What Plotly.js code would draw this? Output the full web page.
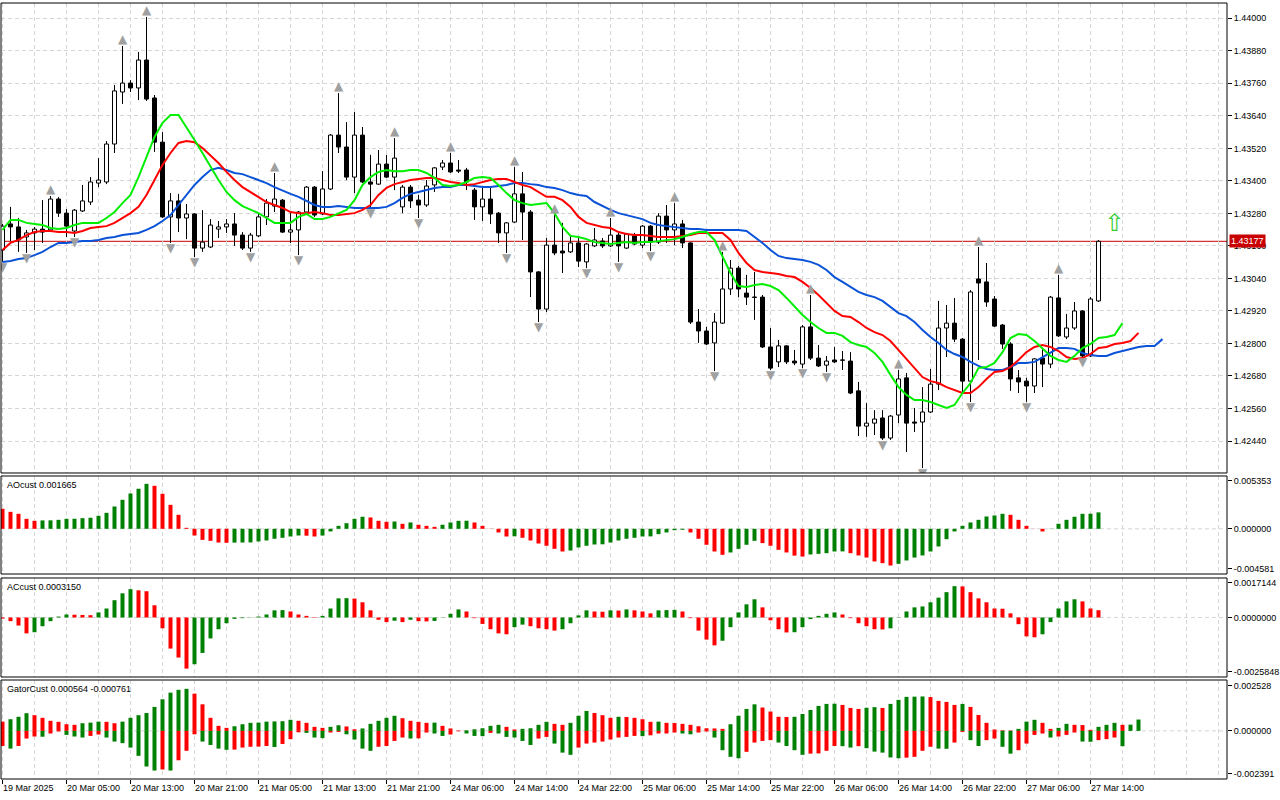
<!DOCTYPE html>
<html>
<head>
<meta charset="utf-8">
<script src="https://cdn.plot.ly/plotly-3.0.1.min.js"></script>
<style>
html,body{margin:0;padding:0;background:#fff}
#chart{width:1280px;height:800px}
</style>
</head>
<body>
<div id="chart"></div>
<script>
// H1 bars, one label every 8 bars
const labelBars=[0,8,16,24,32,40,48,56,64,72,80,88,96,104,112,120,128,136];
const labelText=["19 Mar 2025","20 Mar 05:00","20 Mar 13:00","20 Mar 21:00","21 Mar 05:00","21 Mar 13:00",
  "21 Mar 21:00","24 Mar 06:00","24 Mar 14:00","24 Mar 22:00","25 Mar 06:00","25 Mar 14:00",
  "25 Mar 22:00","26 Mar 06:00","26 Mar 14:00","26 Mar 22:00","27 Mar 06:00","27 Mar 14:00"];

const open=[1.43145,1.43241,1.43230,1.43193,1.43208,1.43222,1.43219,1.43333,1.43281,1.43215,
1.43289,1.43322,1.43392,1.43396,1.43536,1.43728,1.43761,1.43743,1.43846,1.43706,
1.43543,1.43267,1.43326,1.43263,1.43278,1.43152,1.43156,1.43222,1.43230,1.43241,
1.43200,1.43152,1.43197,1.43267,1.43307,1.43329,1.43211,1.43219,1.43285,1.43377,
1.43278,1.43370,1.43569,1.43525,1.43414,1.43569,1.43396,1.43388,1.43462,1.43414,
1.43304,1.43377,1.43329,1.43311,1.43385,1.43451,1.43466,1.43440,1.43440,1.43366,
1.43304,1.43333,1.43281,1.43208,1.43248,1.43352,1.43285,1.43064,1.42927,1.43163,
1.43141,1.43138,1.43171,1.43101,1.43160,1.43178,1.43160,1.43200,1.43152,1.43197,
1.43163,1.43233,1.43174,1.43270,1.43219,1.43241,1.43171,1.42879,1.42846,1.42802,
1.42875,1.43001,1.43078,1.42986,1.42971,1.42971,1.42787,1.42732,1.42791,1.42735,
1.42724,1.42861,1.42746,1.42720,1.42739,1.42739,1.42735,1.42625,1.42495,1.42506,
1.42525,1.42451,1.42536,1.42673,1.42510,1.42510,1.42547,1.42650,1.42857,1.42875,
1.42816,1.42661,1.43038,1.43027,1.42964,1.42868,1.42798,1.42673,1.42661,1.42643,
1.42746,1.42724,1.42968,1.42824,1.42857,1.42920,1.42754,1.42957];
const high=[1.43241,1.43304,1.43263,1.43219,1.43230,1.43329,1.43344,1.43340,1.43296,1.43296,
1.43385,1.43414,1.43484,1.43547,1.43754,1.43898,1.43772,1.43876,1.44005,1.43717,
1.43580,1.43355,1.43352,1.43315,1.43281,1.43292,1.43259,1.43252,1.43259,1.43281,
1.43211,1.43208,1.43281,1.43333,1.43429,1.43333,1.43281,1.43289,1.43381,1.43381,
1.43436,1.43573,1.43724,1.43617,1.43654,1.43599,1.43496,1.43514,1.43496,1.43558,
1.43385,1.43385,1.43348,1.43403,1.43451,1.43477,1.43503,1.43477,1.43448,1.43374,
1.43374,1.43374,1.43285,1.43248,1.43451,1.43433,1.43292,1.43067,1.43189,1.43274,
1.43245,1.43200,1.43189,1.43171,1.43226,1.43189,1.43263,1.43208,1.43208,1.43208,
1.43237,1.43237,1.43281,1.43311,1.43318,1.43256,1.43174,1.42927,1.42861,1.42912,
1.43138,1.43108,1.43086,1.43053,1.43064,1.42979,1.42857,1.42813,1.42794,1.42776,
1.42868,1.42979,1.42794,1.42754,1.42787,1.42772,1.42768,1.42658,1.42580,1.42554,
1.42554,1.42536,1.42702,1.42691,1.42562,1.42639,1.42706,1.42957,1.42942,1.42968,
1.42820,1.42997,1.43156,1.43097,1.42975,1.42872,1.42805,1.42702,1.42673,1.42746,
1.42783,1.42975,1.43053,1.42909,1.42953,1.42923,1.42971,1.43182];
const low=[1.43101,1.43178,1.43138,1.43134,1.43145,1.43171,1.43215,1.43267,1.43193,1.43193,
1.43285,1.43311,1.43377,1.43388,1.43503,1.43684,1.43728,1.43698,1.43695,1.43507,
1.43263,1.43171,1.43211,1.43185,1.43119,1.43138,1.43152,1.43189,1.43208,1.43160,
1.43145,1.43138,1.43193,1.43237,1.43285,1.43208,1.43171,1.43126,1.43278,1.43267,
1.43274,1.43366,1.43503,1.43403,1.43355,1.43392,1.43300,1.43385,1.43411,1.43366,
1.43281,1.43300,1.43263,1.43304,1.43359,1.43440,1.43429,1.43429,1.43366,1.43256,
1.43252,1.43241,1.43171,1.43134,1.43245,1.43182,1.42971,1.42879,1.42916,1.43126,
1.43060,1.43134,1.43082,1.43078,1.43156,1.43152,1.43156,1.43101,1.43149,1.43163,
1.43152,1.43141,1.43167,1.43171,1.43163,1.43152,1.42872,1.42802,1.42794,1.42698,
1.42872,1.42979,1.42971,1.42942,1.42887,1.42783,1.42702,1.42713,1.42724,1.42720,
1.42709,1.42739,1.42713,1.42695,1.42728,1.42702,1.42613,1.42458,1.42455,1.42462,
1.42444,1.42444,1.42506,1.42399,1.42473,1.42340,1.42543,1.42628,1.42750,1.42805,
1.42621,1.42584,1.42739,1.42935,1.42861,1.42780,1.42625,1.42617,1.42584,1.42617,
1.42639,1.42709,1.42824,1.42816,1.42850,1.42750,1.42750,1.42953];
const close=[1.43233,1.43230,1.43182,1.43208,1.43222,1.43211,1.43333,1.43281,1.43233,1.43292,
1.43326,1.43396,1.43403,1.43536,1.43732,1.43761,1.43743,1.43846,1.43702,1.43543,
1.43267,1.43326,1.43263,1.43278,1.43152,1.43174,1.43237,1.43230,1.43241,1.43200,
1.43152,1.43200,1.43267,1.43318,1.43333,1.43211,1.43219,1.43285,1.43377,1.43274,
1.43370,1.43569,1.43525,1.43414,1.43569,1.43396,1.43388,1.43462,1.43414,1.43484,
1.43377,1.43326,1.43311,1.43381,1.43448,1.43466,1.43433,1.43436,1.43396,1.43304,
1.43333,1.43278,1.43208,1.43245,1.43352,1.43285,1.43064,1.42927,1.43163,1.43134,
1.43134,1.43171,1.43104,1.43167,1.43182,1.43160,1.43200,1.43160,1.43204,1.43167,
1.43233,1.43174,1.43270,1.43219,1.43241,1.43171,1.42879,1.42846,1.42798,1.42879,
1.43001,1.43078,1.43001,1.42971,1.42970,1.42787,1.42709,1.42791,1.42732,1.42728,
1.42861,1.42746,1.42717,1.42735,1.42732,1.42738,1.42617,1.42495,1.42506,1.42521,
1.42451,1.42532,1.42669,1.42506,1.42506,1.42547,1.42650,1.42857,1.42875,1.42816,
1.42661,1.42990,1.43023,1.42953,1.42864,1.42798,1.42669,1.42658,1.42643,1.42743,
1.42724,1.42971,1.42828,1.42857,1.42920,1.42754,1.42964,1.43177];

// Alligator lines as drawn (already shifted forward: lips 3, teeth 5, jaw 8 bars)
const lips=[1.43219,1.43256,1.43256,1.43245,1.43241,1.43237,1.43226,1.43222,1.43226,1.43237,
1.43245,1.43245,1.43245,1.43263,1.43285,1.43318,1.43348,1.43414,1.43488,1.43562,
1.43614,1.43643,1.43643,1.43599,1.43551,1.43503,1.43451,1.43403,1.43359,1.43329,
1.43307,1.43293,1.43281,1.43263,1.43245,1.43245,1.43245,1.43267,1.43278,1.43259,
1.43259,1.43267,1.43281,1.43293,1.43329,1.43385,1.43414,1.43433,1.43440,1.43436,
1.43436,1.43440,1.43440,1.43429,1.43411,1.43385,1.43381,1.43385,1.43396,1.43411,
1.43414,1.43411,1.43385,1.43355,1.43329,1.43318,1.43311,1.43315,1.43318,1.43281,
1.43230,1.43197,1.43193,1.43185,1.43174,1.43171,1.43167,1.43171,1.43174,1.43171,
1.43174,1.43174,1.43178,1.43182,1.43185,1.43193,1.43204,1.43211,1.43211,1.43182,
1.43119,1.43060,1.43012,1.43008,1.43016,1.43019,1.43012,1.42997,1.42968,1.42935,
1.42905,1.42879,1.42857,1.42839,1.42839,1.42828,1.42805,1.42794,1.42787,1.42765,
1.42732,1.42684,1.42639,1.42610,1.42591,1.42591,1.42584,1.42573,1.42562,1.42573,
1.42617,1.42654,1.42709,1.42713,1.42728,1.42768,1.42820,1.42835,1.42831,1.42809,
1.42783,1.42754,1.42739,1.42732,1.42754,1.42783,1.42798,1.42820,1.42824,1.42831,
1.42875];
const teeth=[1.43145,1.43171,1.43182,1.43200,1.43211,1.43215,1.43215,1.43211,1.43211,1.43208,
1.43215,1.43226,1.43230,1.43233,1.43245,1.43263,1.43281,1.43304,1.43348,1.43403,
1.43459,1.43503,1.43540,1.43547,1.43543,1.43521,1.43492,1.43466,1.43433,1.43403,
1.43377,1.43359,1.43341,1.43322,1.43311,1.43300,1.43285,1.43281,1.43281,1.43285,
1.43281,1.43274,1.43274,1.43278,1.43281,1.43293,1.43311,1.43348,1.43374,1.43388,
1.43396,1.43403,1.43407,1.43411,1.43411,1.43403,1.43396,1.43392,1.43385,1.43388,
1.43396,1.43403,1.43407,1.43407,1.43396,1.43385,1.43377,1.43359,1.43341,1.43341,
1.43329,1.43304,1.43267,1.43245,1.43237,1.43230,1.43226,1.43211,1.43204,1.43200,
1.43200,1.43197,1.43193,1.43193,1.43193,1.43197,1.43200,1.43208,1.43208,1.43208,
1.43208,1.43182,1.43134,1.43097,1.43071,1.43064,1.43060,1.43056,1.43049,1.43045,
1.43027,1.43005,1.42979,1.42949,1.42920,1.42901,1.42898,1.42879,1.42857,1.42842,
1.42831,1.42809,1.42776,1.42739,1.42709,1.42676,1.42661,1.42654,1.42639,1.42628,
1.42617,1.42617,1.42639,1.42669,1.42695,1.42698,1.42713,1.42739,1.42768,1.42787,
1.42794,1.42787,1.42772,1.42750,1.42743,1.42746,1.42761,1.42783,1.42787,1.42798,
1.42802,1.42809,1.42839];
const jaw=[1.43101,1.43104,1.43112,1.43115,1.43126,1.43138,1.43156,1.43171,1.43171,1.43174,
1.43178,1.43178,1.43182,1.43189,1.43193,1.43200,1.43204,1.43208,1.43219,1.43233,
1.43252,1.43274,1.43311,1.43348,1.43385,1.43414,1.43440,1.43448,1.43440,1.43429,
1.43425,1.43414,1.43403,1.43392,1.43377,1.43363,1.43352,1.43341,1.43326,1.43311,
1.43304,1.43304,1.43307,1.43304,1.43300,1.43300,1.43300,1.43300,1.43304,1.43318,
1.43337,1.43352,1.43359,1.43366,1.43374,1.43377,1.43377,1.43385,1.43385,1.43381,
1.43377,1.43377,1.43381,1.43385,1.43392,1.43392,1.43388,1.43385,1.43377,1.43374,
1.43366,1.43355,1.43348,1.43344,1.43322,1.43307,1.43293,1.43281,1.43274,1.43267,
1.43259,1.43245,1.43237,1.43233,1.43230,1.43226,1.43222,1.43222,1.43219,1.43219,
1.43219,1.43219,1.43219,1.43215,1.43193,1.43171,1.43145,1.43123,1.43115,1.43112,
1.43108,1.43101,1.43090,1.43071,1.43045,1.43027,1.43008,1.42990,1.42979,1.42971,
1.42957,1.42935,1.42912,1.42901,1.42879,1.42850,1.42824,1.42802,1.42776,1.42761,
1.42750,1.42732,1.42717,1.42706,1.42702,1.42702,1.42713,1.42728,1.42728,1.42732,
1.42750,1.42768,1.42783,1.42783,1.42780,1.42765,1.42757,1.42754,1.42754,1.42765,
1.42772,1.42780,1.42787,1.42791,1.42791,1.42816];

const ao=[0.00203,0.00172,0.00152,0.00101,0.00081,0.00085,0.00086,0.00091,0.00101,0.00102,
0.00108,0.00112,0.00132,0.00162,0.00226,0.00294,0.00358,0.00406,0.00456,0.00436,
0.00355,0.00243,0.00142,0.00010,-0.00068,-0.00112,-0.00122,-0.00139,-0.00142,-0.00140,
-0.00139,-0.00138,-0.00128,-0.00118,-0.00101,-0.00091,-0.00078,-0.00068,-0.00070,-0.00078,
-0.00068,-0.00027,0.00030,0.00057,0.00101,0.00122,0.00115,0.00081,0.00071,0.00074,
0.00051,0.00064,0.00041,0.00030,0.00020,0.00041,0.00064,0.00081,0.00082,0.00064,
0.00030,0.00002,-0.00037,-0.00078,-0.00076,-0.00091,-0.00118,-0.00149,-0.00172,-0.00203,
-0.00230,-0.00220,-0.00189,-0.00172,-0.00159,-0.00157,-0.00139,-0.00118,-0.00101,-0.00091,
-0.00078,-0.00077,-0.00054,-0.00037,-0.00014,-0.00010,-0.00037,-0.00101,-0.00162,-0.00230,
-0.00264,-0.00240,-0.00203,-0.00162,-0.00122,-0.00145,-0.00172,-0.00213,-0.00240,-0.00272,
-0.00281,-0.00260,-0.00254,-0.00247,-0.00230,-0.00229,-0.00247,-0.00270,-0.00291,-0.00331,
-0.00348,-0.00372,-0.00355,-0.00321,-0.00291,-0.00270,-0.00230,-0.00179,-0.00105,-0.00027,
0.00030,0.00064,0.00091,0.00125,0.00135,0.00152,0.00142,0.00091,0.00030,0.00001,
-0.00027,-0.00002,0.00051,0.00091,0.00122,0.00152,0.00153,0.001665];
const ac=[-0.00005,-0.00016,-0.00035,-0.00069,-0.00064,-0.00038,-0.00016,0.00004,0.00013,0.00012,
0.00011,0.00010,0.00022,0.00039,0.00075,0.00105,0.00123,0.00118,0.00114,0.00053,
-0.00047,-0.00135,-0.00174,-0.00222,-0.00203,-0.00154,-0.00091,-0.00051,-0.00025,-0.00006,
-0.00003,0.00001,0.00004,0.00013,0.00031,0.00032,0.00026,0.00013,0.00007,0.00002,
0.00007,0.00039,0.00083,0.00084,0.00082,0.00066,0.00031,-0.00010,-0.00020,-0.00014,
-0.00020,-0.00010,-0.00016,-0.00017,-0.00015,0.00001,0.00016,0.00035,0.00026,-0.00003,
-0.00028,-0.00051,-0.00069,-0.00073,-0.00042,-0.00031,-0.00038,-0.00047,-0.00051,-0.00057,
-0.00051,-0.00025,0.00009,0.00031,0.00026,0.00025,0.00031,0.00030,0.00035,0.00031,
0.00026,0.00018,0.00031,0.00032,0.00033,0.00026,-0.00003,-0.00057,-0.00096,-0.00121,
-0.00101,-0.00042,0.00022,0.00057,0.00079,0.00044,-0.00012,-0.00051,-0.00065,-0.00064,
-0.00042,-0.00007,0.00007,0.00016,0.00022,0.00013,-0.00003,-0.00025,-0.00038,-0.00051,
-0.00052,-0.00047,0.00001,0.00026,0.00044,0.00048,0.00066,0.00086,0.00110,0.00136,
0.00135,0.00110,0.00083,0.00066,0.00039,0.00038,0.00018,-0.00029,-0.00082,-0.00086,
-0.00073,-0.00020,0.00039,0.00070,0.00079,0.00070,0.00039,0.000315];
const gatorUp=[0.00046,0.00058,0.00070,0.00088,0.00078,0.00065,0.00050,0.00045,0.00033,0.00030,
0.00038,0.00041,0.00046,0.00045,0.00038,0.00046,0.00065,0.00078,0.00089,0.00119,
0.00157,0.00190,0.00204,0.00209,0.00185,0.00132,0.00065,0.00025,0.00015,0.00023,
0.00033,0.00040,0.00041,0.00046,0.00047,0.00048,0.00055,0.00050,0.00040,0.00020,
0.00015,0.00020,0.00028,0.00022,0.00008,0.00012,0.00035,0.00050,0.00065,0.00075,
0.00063,0.00050,0.00045,0.00040,0.00041,0.00025,0.00012,0.00002,0.00003,0.00008,
0.00013,0.00025,0.00030,0.00020,0.00007,0.00010,0.00013,0.00030,0.00045,0.00035,
0.00030,0.00040,0.00075,0.00099,0.00089,0.00078,0.00065,0.00070,0.00069,0.00065,
0.00058,0.00045,0.00046,0.00040,0.00039,0.00035,0.00030,0.00023,0.00013,0.00012,
0.00010,0.00033,0.00075,0.00109,0.00132,0.00116,0.00096,0.00070,0.00069,0.00070,
0.00084,0.00104,0.00124,0.00134,0.00135,0.00129,0.00114,0.00109,0.00115,0.00118,
0.00114,0.00134,0.00154,0.00169,0.00170,0.00171,0.00168,0.00149,0.00144,0.00129,
0.00134,0.00119,0.00079,0.00040,0.00007,0.00003,0.00002,0.00010,0.00046,0.00055,
0.00040,0.00010,0.00015,0.00035,0.00030,0.00029,0.00005,0.00020,0.00030,0.00040,
0.00030,0.00031,0.000564];
const gatorDn=[-0.00075,-0.00088,-0.00075,-0.00038,-0.00028,-0.00029,-0.00013,-0.00003,-0.00020,-0.00028,
-0.00033,-0.00025,-0.00018,-0.00033,-0.00053,-0.00061,-0.00083,-0.00124,-0.00177,-0.00197,
-0.00192,-0.00197,-0.00146,-0.00099,-0.00017,-0.00053,-0.00070,-0.00088,-0.00094,-0.00093,
-0.00083,-0.00079,-0.00078,-0.00075,-0.00080,-0.00065,-0.00041,-0.00007,-0.00010,-0.00033,
-0.00036,-0.00008,-0.00005,-0.00017,-0.00043,-0.00088,-0.00099,-0.00079,-0.00075,-0.00050,
-0.00033,-0.00038,-0.00037,-0.00008,-0.00013,-0.00025,-0.00018,-0.00002,-0.00013,-0.00025,
-0.00026,-0.00010,-0.00013,-0.00030,-0.00033,-0.00050,-0.00070,-0.00038,-0.00030,-0.00063,
-0.00108,-0.00119,-0.00083,-0.00063,-0.00058,-0.00053,-0.00043,-0.00033,-0.00030,-0.00025,
-0.00026,-0.00022,-0.00013,-0.00013,-0.00008,-0.00013,-0.00017,-0.00008,-0.00003,-0.00033,
-0.00096,-0.00129,-0.00136,-0.00104,-0.00058,-0.00050,-0.00046,-0.00058,-0.00075,-0.00096,
-0.00119,-0.00113,-0.00112,-0.00099,-0.00075,-0.00076,-0.00083,-0.00076,-0.00086,-0.00103,
-0.00108,-0.00132,-0.00136,-0.00133,-0.00129,-0.00099,-0.00079,-0.00088,-0.00089,-0.00058,
-0.00005,-0.00046,-0.00075,-0.00046,-0.00038,-0.00079,-0.00113,-0.00096,-0.00063,-0.00020,
-0.00013,-0.00033,-0.00028,-0.00020,-0.00008,-0.00053,-0.00054,-0.00046,-0.00041,-0.00033,
-0.000761];

// bar indexes carrying a fractal
const fractalUp=[6,15,18,34,42,49,56,64,69,76,84,90,101,112,122,132];
const fractalDn=[0,3,9,21,24,31,37,46,52,63,67,73,77,81,89,96,100,103,110,115,121,128,135];
const lastPrice=1.43177;
const signalBar=139, signalPrice=1.43237;

const FONT="Liberation Sans, Arial, sans-serif";
const GRID="#d6d6d6", DASH="4px,3px";
const UPC="#008000", DNC="#ff0000";
const bars=n=>Array.from({length:n},(_,i)=>i);
const rising=v=>v.map((x,i)=>i>0&&x>v[i-1]?UPC:DNC);
const widening=v=>v.map((x,i)=>i>0&&Math.abs(x)>Math.abs(v[i-1])?UPC:DNC);

// wicks drawn outside the body only
const wx=[],wy=[];
open.forEach((o,i)=>{
  const top=Math.max(o,close[i]), bot=Math.min(o,close[i]);
  wx.push(i,i,null,i,i,null); wy.push(high[i],top,null,bot,low[i],null);
});
const nb=open.length;
const traces=[
  {type:"scatter",mode:"lines",x:wx,y:wy,line:{color:"#000",width:1},hoverinfo:"skip",xaxis:"x",yaxis:"y"},
  {type:"bar",x:bars(nb),base:open.map((o,i)=>Math.min(o,close[i])),
   y:open.map((o,i)=>Math.max(Math.abs(close[i]-o),0.000012)),width:0.5,
   marker:{color:open.map((o,i)=>close[i]>=o?"#fff":"#000"),line:{color:"#000",width:1}},
   hoverinfo:"skip",xaxis:"x",yaxis:"y"},
  {type:"scatter",mode:"lines",x:bars(jaw.length),y:jaw,line:{color:"#0a52d8",width:2},xaxis:"x",yaxis:"y"},
  {type:"scatter",mode:"lines",x:bars(teeth.length),y:teeth,line:{color:"#ff0000",width:2},xaxis:"x",yaxis:"y"},
  {type:"scatter",mode:"lines",x:bars(lips.length),y:lips,line:{color:"#00ee00",width:2},xaxis:"x",yaxis:"y"},
  {type:"scatter",mode:"text",x:fractalUp,y:fractalUp.map(i=>high[i]),text:fractalUp.map(()=>"▲"),
   textposition:"top center",textfont:{family:"DejaVu Sans",size:12,color:"#a0a0a0"},xaxis:"x",yaxis:"y"},
  {type:"scatter",mode:"text",x:fractalDn,y:fractalDn.map(i=>low[i]),text:fractalDn.map(()=>"▼"),
   textposition:"bottom center",textfont:{family:"DejaVu Sans",size:12,color:"#a0a0a0"},xaxis:"x",yaxis:"y"},
  {type:"scatter",mode:"text",x:[signalBar],y:[signalPrice],text:["⇧"],textposition:"middle center",
   textfont:{family:"DejaVu Sans",size:24,color:"#33cc33"},xaxis:"x",yaxis:"y"},
  {type:"bar",x:bars(ao.length),y:ao,width:0.5,marker:{color:rising(ao)},xaxis:"x",yaxis:"y2"},
  {type:"bar",x:bars(ac.length),y:ac,width:0.5,marker:{color:rising(ac)},xaxis:"x",yaxis:"y3"},
  {type:"bar",x:bars(gatorUp.length),y:gatorUp,width:0.5,marker:{color:widening(gatorUp)},xaxis:"x",yaxis:"y4"},
  {type:"bar",x:bars(gatorDn.length),y:gatorDn,width:0.5,marker:{color:widening(gatorDn)},xaxis:"x",yaxis:"y4"}
];

const sub=(dom,range,vals,txt)=>({domain:dom,range:range,side:"right",tickmode:"array",tickvals:vals,ticktext:txt,
  ticks:"outside",ticklen:4,tickcolor:"#000",showgrid:false,zeroline:false,fixedrange:true,anchor:"x"});
const layout={
  width:1280,height:800,margin:{l:1,r:53,t:3,b:21},
  paper_bgcolor:"#fff",plot_bgcolor:"#fff",showlegend:false,hovermode:false,barmode:"overlay",
  font:{family:FONT,size:9,color:"#000"},
  xaxis:{range:[-0.1875,153.0625],tickmode:"array",tickvals:labelBars,ticktext:labelText,
    ticks:"outside",ticklen:4,tickcolor:"#000",ticklabelposition:"outside right",
    showgrid:true,gridcolor:GRID,griddash:DASH,zeroline:false,showline:false,anchor:"y4",fixedrange:true,
    minor:{tickmode:"linear",tick0:0,dtick:4,showgrid:true,gridcolor:GRID,griddash:DASH,ticks:""}},
  yaxis:{domain:[0.394330,1],range:[1.423219,1.440565],side:"right",tick0:1.4244,dtick:0.0012,tickformat:".5f",
    ticks:"outside",ticklen:4,tickcolor:"#000",showgrid:true,gridcolor:GRID,griddash:DASH,zeroline:false,
    fixedrange:true,anchor:"x"},
  yaxis2:sub([0.264175,0.390464],[-0.004581,0.005353],[0.004846,0,-0.004074],["0.005353","0.000000","-0.004581"]),
  yaxis3:sub([0.131443,0.259021],[-0.0025848,0.0017144],[0.0014974,0,-0.0023678],["0.0017144","0.0000000","-0.0025848"]),
  yaxis4:sub([0,0.127577],[-0.002391,0.002528],[0.002255,0,-0.002118],["0.002528","0.000000","-0.002391"]),
  shapes:[
    {type:"line",xref:"paper",x0:0,x1:1,yref:"y",y0:lastPrice,y1:lastPrice,line:{color:"#c80000",width:1},layer:"below"},
    {type:"line",xref:"paper",x0:0,x1:1,yref:"y2",y0:0,y1:0,line:{color:GRID,width:1,dash:DASH},layer:"below"},
    {type:"line",xref:"paper",x0:0,x1:1,yref:"y3",y0:0,y1:0,line:{color:GRID,width:1,dash:DASH},layer:"below"},
    {type:"line",xref:"paper",x0:0,x1:1,yref:"y4",y0:0,y1:0,line:{color:GRID,width:1,dash:DASH},layer:"below"},
    ...["y","y2","y3","y4"].map(a=>({type:"rect",xref:"paper",x0:0,x1:1,yref:a+" domain",y0:0,y1:1,
      line:{color:"#000",width:1},fillcolor:"rgba(0,0,0,0)",layer:"above"}))
  ],
  annotations:[
    {xref:"paper",x:1,xanchor:"left",xshift:2,yref:"y",y:lastPrice,yanchor:"middle",text:lastPrice.toFixed(5),
     showarrow:false,bgcolor:"#c80000",font:{color:"#fff",size:9,family:FONT},borderpad:1},
    {xref:"paper",x:0,xanchor:"left",xshift:4,yref:"y2 domain",y:1,yanchor:"top",yshift:-2,
     text:"AOcust "+ao[ao.length-1].toFixed(6),showarrow:false},
    {xref:"paper",x:0,xanchor:"left",xshift:4,yref:"y3 domain",y:1,yanchor:"top",yshift:-2,
     text:"ACcust "+ac[ac.length-1].toFixed(7),showarrow:false},
    {xref:"paper",x:0,xanchor:"left",xshift:4,yref:"y4 domain",y:1,yanchor:"top",yshift:-2,
     text:"GatorCust "+gatorUp[gatorUp.length-1].toFixed(6)+" "+gatorDn[gatorDn.length-1].toFixed(6),showarrow:false}
  ]
};
Plotly.newPlot("chart",traces,layout,{displayModeBar:false,staticPlot:true});
</script>
</body>
</html>
